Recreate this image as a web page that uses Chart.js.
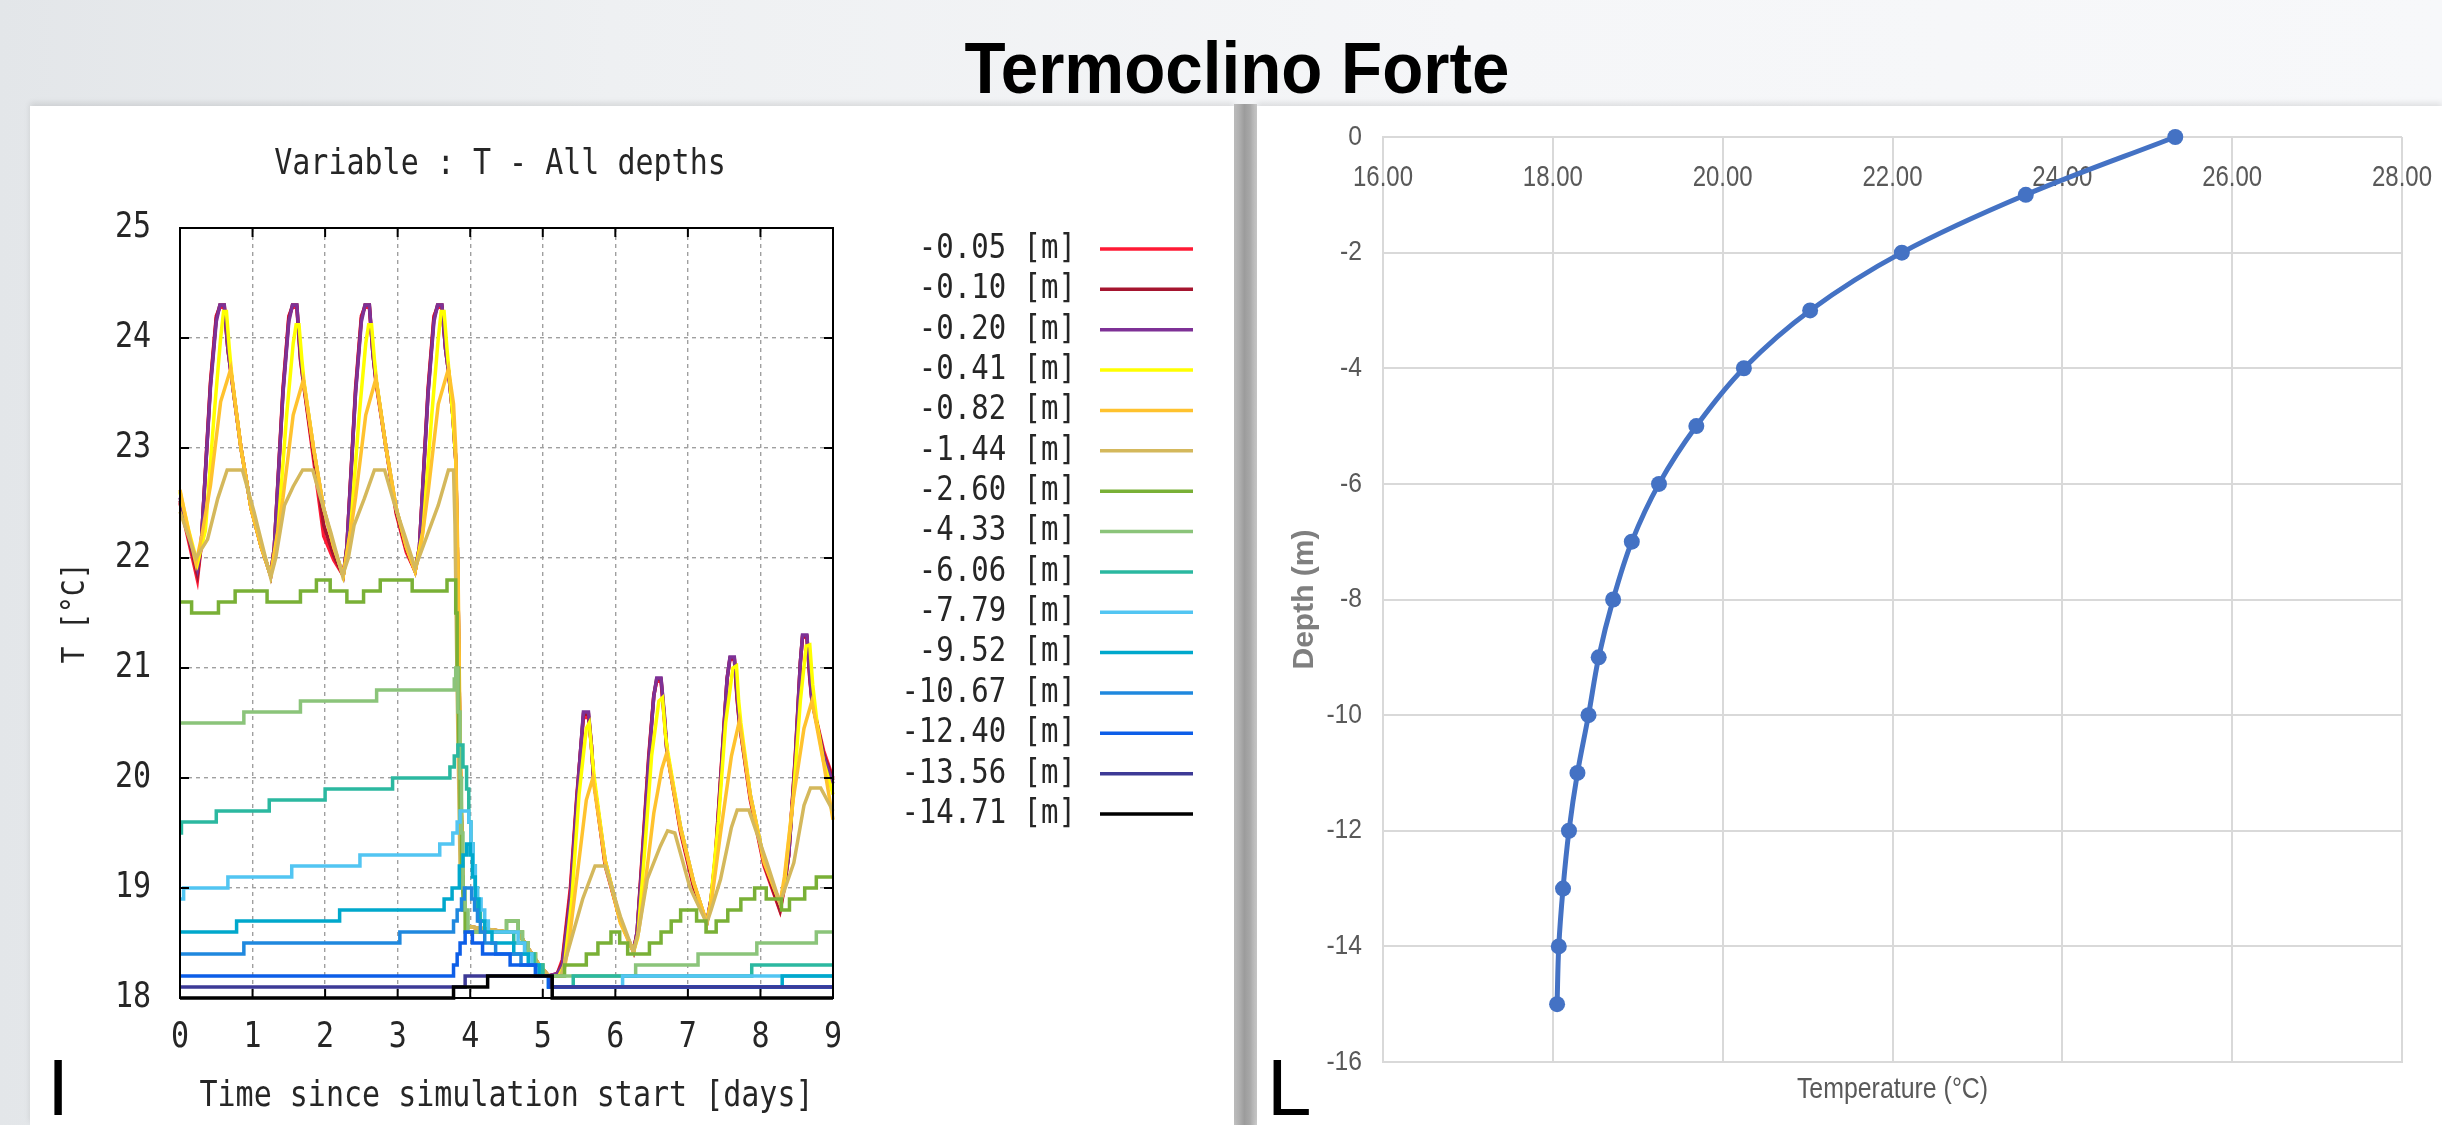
<!DOCTYPE html>
<html>
<head>
<meta charset="utf-8">
<script src="https://cdn.jsdelivr.net/npm/chart.js"></script>
<style>
  body {
    margin: 0;
    width: 2442px;
    height: 1125px;
    overflow: hidden;
    position: relative;
    background: linear-gradient(90deg, #e3e6e9 0%, #eef0f2 25%, #f5f6f8 60%, #f7f8fa 100%);
  }
  #pageTitle {
    position: absolute;
    left: 1237px;
    top: 32px;
    transform: translateX(-50%) scaleX(0.935);
    font: bold 72px "Liberation Sans", Arial, sans-serif;
    line-height: 72px;
    white-space: nowrap;
    color: #000;
  }
  .panel {
    position: absolute;
    top: 106px;
    height: 1019px;
    background: #fff;
    box-shadow: 0 -3px 6px rgba(0, 0, 0, 0.10);
  }
  #gap {
    position: absolute;
    left: 1234px;
    top: 104px;
    width: 23px;
    height: 1021px;
    background: linear-gradient(90deg, #c4c4c4, #9c9c9c 45%, #a8a8a8 70%, #cfcfcf);
  }
  .mark {
    position: absolute;
    top: 1048px;
    font: 80px "Liberation Sans", sans-serif;
    line-height: 80px;
    color: #000;
  }
</style>
</head>
<body>
<div id="pageTitle">Termoclino Forte</div>
<div id="gap"></div>
<div class="panel" style="left:30px;width:1204px"><canvas id="leftChart" width="1204" height="1019"></canvas></div>
<div class="panel" style="left:1257px;width:1185px"><canvas id="rightChart" width="1185" height="1019"></canvas></div>
<div class="mark" style="left:47px">I</div>
<div class="mark" style="left:1267px">L</div>

<script>
// ---- left plot : T at all depths vs time ----
const plotTitle = 'Variable : T - All depths';
const xTitle = 'Time since simulation start [days]';
const yTitle = 'T [°C]';
const depthLabels = ['-0.05 [m]', '-0.10 [m]', '-0.20 [m]', '-0.41 [m]', '-0.82 [m]', '-1.44 [m]',
  '-2.60 [m]', '-4.33 [m]', '-6.06 [m]', '-7.79 [m]', '-9.52 [m]', '-10.67 [m]', '-12.40 [m]',
  '-13.56 [m]', '-14.71 [m]'];
const lineColors = ['#ff1a35', '#a5152f', '#7e3196', '#ffff00', '#ffc22e', '#d4b85c', '#79b036',
  '#8bc47a', '#2bb8a0', '#52c5f2', '#00a8cc', '#1f88de', '#0d5ee8', '#3d3a96', '#000000'];

// surface layers share one time base (days)
const tSurf = [0, 0.12, 0.24, 0.29, 0.42, 0.5, 0.55, 0.61, 0.66, 0.7, 0.84, 0.98, 1.12, 1.25,
  1.3, 1.42, 1.5, 1.55, 1.61, 1.66, 1.7, 1.84, 1.98, 2.12, 2.25,
  2.3, 2.42, 2.5, 2.55, 2.61, 2.66, 2.7, 2.84, 2.98, 3.12, 3.24,
  3.3, 3.42, 3.5, 3.55, 3.61, 3.66, 3.7, 3.76, 3.8, 3.83, 3.86, 3.9, 3.96, 4.5, 4.66, 4.8, 4.95, 5.08, 5.2,
  5.27, 5.38, 5.47, 5.56, 5.63, 5.67, 5.7, 5.86, 6.07, 6.25,
  6.3, 6.37, 6.46, 6.53, 6.57, 6.63, 6.68, 6.71, 6.9, 7.08, 7.26,
  7.32, 7.38, 7.47, 7.54, 7.58, 7.64, 7.68, 7.71, 7.86, 8.05, 8.27,
  8.33, 8.39, 8.48, 8.55, 8.58, 8.64, 8.68, 8.71, 8.87, 9];
const vRed = [22.5, 22.15, 21.8, 22.1, 23.6, 24.2, 24.28, 24.28, 23.9, 23.7, 23.0, 22.45, 22.1, 21.84,
  22.1, 23.55, 24.2, 24.28, 24.28, 23.8, 23.6, 22.9, 22.2, 21.98, 21.84,
  22.1, 23.55, 24.2, 24.28, 24.28, 23.85, 23.6, 23.0, 22.4, 22.05, 21.88,
  22.1, 23.55, 24.2, 24.28, 24.28, 23.9, 23.7, 23.3, 22.9, 21.8, 20.2, 19.0, 18.65, 18.6, 18.6, 18.45, 18.3, 18.2, 18.22,
  18.35, 19.0, 19.85, 20.55, 20.55, 20.3, 20.0, 19.2, 18.7, 18.42,
  18.6, 19.3, 20.2, 20.75, 20.88, 20.88, 20.5, 20.25, 19.5, 19.0, 18.68,
  18.9, 19.3, 20.2, 20.9, 21.08, 21.08, 20.7, 20.5, 19.8, 19.2, 18.79,
  19.0, 19.3, 20.2, 21.05, 21.28, 21.28, 20.9, 20.7, 20.25, 20.0];
const vDarkRed = [22.52, 22.18, 21.85, 22.1, 23.58, 24.18, 24.3, 24.3, 23.9, 23.7, 23.0, 22.45, 22.1, 21.84,
  22.1, 23.52, 24.18, 24.3, 24.3, 23.82, 23.6, 22.95, 22.3, 22.02, 21.84,
  22.1, 23.52, 24.18, 24.3, 24.3, 23.85, 23.62, 23.0, 22.42, 22.08, 21.88,
  22.1, 23.52, 24.18, 24.3, 24.3, 23.9, 23.7, 23.3, 22.9, 21.8, 20.2, 19.0, 18.65, 18.6, 18.6, 18.45, 18.3, 18.2, 18.22,
  18.32, 18.95, 19.82, 20.58, 20.58, 20.3, 20.0, 19.22, 18.7, 18.42,
  18.6, 19.27, 20.17, 20.75, 20.9, 20.9, 20.52, 20.25, 19.52, 19.02, 18.68,
  18.9, 19.28, 20.18, 20.9, 21.09, 21.09, 20.72, 20.5, 19.82, 19.22, 18.8,
  19.02, 19.3, 20.18, 21.05, 21.29, 21.29, 20.92, 20.7, 20.22, 19.98];
const vPurple = [22.55, 22.2, 21.9, 22.1, 23.55, 24.15, 24.3, 24.3, 23.9, 23.7, 23.0, 22.45, 22.1, 21.84,
  22.1, 23.5, 24.15, 24.3, 24.3, 23.85, 23.62, 23.0, 22.45, 22.1, 21.84,
  22.1, 23.5, 24.15, 24.3, 24.3, 23.85, 23.63, 23.0, 22.45, 22.1, 21.88,
  22.1, 23.5, 24.15, 24.3, 24.3, 23.9, 23.7, 23.3, 22.9, 21.8, 20.2, 19.0, 18.65, 18.6, 18.6, 18.45, 18.3, 18.2, 18.22,
  18.3, 18.9, 19.8, 20.6, 20.6, 20.3, 20.0, 19.25, 18.7, 18.42,
  18.6, 19.23, 20.14, 20.74, 20.91, 20.91, 20.55, 20.25, 19.55, 19.05, 18.68,
  18.9, 19.25, 20.15, 20.9, 21.1, 21.1, 20.75, 20.52, 19.85, 19.25, 18.86,
  19.05, 19.3, 20.15, 21.05, 21.3, 21.3, 20.95, 20.7, 20.2, 19.95];

const tYellow = [0, 0.12, 0.24, 0.35, 0.47, 0.56, 0.6, 0.64, 0.68, 0.72, 0.84, 0.98, 1.12, 1.25,
  1.35, 1.47, 1.56, 1.6, 1.64, 1.68, 1.71, 1.84, 1.98, 2.12, 2.25,
  2.35, 2.47, 2.56, 2.6, 2.64, 2.68, 2.71, 2.84, 2.98, 3.12, 3.24,
  3.35, 3.47, 3.56, 3.6, 3.64, 3.68, 3.72, 3.77, 3.8, 3.83, 3.86, 3.9, 3.96, 4.5, 4.66, 4.8, 4.95, 5.08, 5.22,
  5.3, 5.4, 5.5, 5.6, 5.64, 5.68, 5.71, 5.86, 6.07, 6.25,
  6.31, 6.4, 6.5, 6.6, 6.65, 6.69, 6.72, 6.9, 7.08, 7.26,
  7.31, 7.42, 7.52, 7.62, 7.67, 7.7, 7.73, 7.86, 8.05, 8.27,
  8.33, 8.45, 8.55, 8.63, 8.68, 8.72, 8.78, 8.87, 9];
const vYellow = [22.6, 22.25, 21.95, 22.25, 23.3, 24.0, 24.24, 24.24, 23.9, 23.62, 23.0, 22.45, 22.1, 21.84,
  22.25, 23.3, 23.95, 24.12, 24.12, 23.8, 23.6, 23.0, 22.45, 22.1, 21.84,
  22.25, 23.3, 23.95, 24.12, 24.12, 23.8, 23.6, 23.0, 22.45, 22.1, 21.88,
  22.25, 23.3, 24.0, 24.24, 24.24, 23.9, 23.6, 23.2, 22.9, 21.8, 20.2, 19.0, 18.65, 18.6, 18.6, 18.45, 18.3, 18.2, 18.2,
  18.3, 18.9, 19.85, 20.45, 20.5, 20.2, 20.0, 19.25, 18.7, 18.42,
  18.55, 19.3, 20.2, 20.7, 20.73, 20.4, 20.25, 19.55, 19.05, 18.68,
  18.85, 19.6, 20.5, 21.0, 21.02, 20.7, 20.5, 19.85, 19.25, 18.86,
  19.05, 19.8, 20.7, 21.2, 21.21, 20.85, 20.5, 20.15, 19.85];

const tOrange = [0, 0.1, 0.22, 0.3, 0.42, 0.56, 0.7, 0.84, 0.98, 1.12, 1.25,
  1.32, 1.42, 1.56, 1.7, 1.84, 1.98, 2.12, 2.25,
  2.32, 2.42, 2.56, 2.7, 2.84, 2.98, 3.12, 3.24,
  3.32, 3.42, 3.56, 3.7, 3.77, 3.8, 3.83, 3.86, 3.9, 3.96, 4.5, 4.66, 4.8, 4.95, 5.08, 5.28,
  5.36, 5.51, 5.6, 5.69, 5.86, 6.07, 6.25,
  6.32, 6.39, 6.53, 6.64, 6.71, 6.9, 7.08, 7.26,
  7.33, 7.45, 7.6, 7.71, 7.86, 8.05, 8.27,
  8.33, 8.45, 8.6, 8.71, 8.87, 9];
const vOrange = [22.62, 22.3, 21.95, 22.2, 22.66, 23.42, 23.72, 23.0, 22.45, 22.1, 21.84,
  22.1, 22.55, 23.3, 23.62, 23.0, 22.45, 22.1, 21.84,
  22.1, 22.55, 23.3, 23.63, 23.0, 22.45, 22.1, 21.88,
  22.1, 22.6, 23.4, 23.72, 23.4, 23.0, 22.0, 20.4, 19.0, 18.65, 18.6, 18.6, 18.45, 18.3, 18.2, 18.2,
  18.5, 19.31, 19.8, 20.0, 19.23, 18.68, 18.42,
  18.6, 18.92, 19.68, 20.08, 20.23, 19.53, 19.05, 18.68,
  18.9, 19.5, 20.2, 20.52, 19.83, 19.23, 18.86,
  19.1, 19.8, 20.45, 20.7, 20.14, 19.62];

const tKhaki = [0, 0.22, 0.38, 0.52, 0.65, 0.86, 1.02, 1.16, 1.25,
  1.32, 1.44, 1.56, 1.69, 1.83, 1.94, 2.08, 2.24,
  2.32, 2.4, 2.54, 2.68, 2.82, 2.96, 3.1, 3.24,
  3.32, 3.42, 3.56, 3.7, 3.77, 3.79, 3.82, 3.86, 3.96, 4.5, 4.66, 4.8, 4.95, 5.08, 5.25,
  5.4, 5.55, 5.72, 5.86, 6.07, 6.25,
  6.32, 6.44, 6.62, 6.72, 6.82, 7.03, 7.26,
  7.32, 7.45, 7.6, 7.68, 7.84, 8.09, 8.27,
  8.33, 8.46, 8.6, 8.69, 8.83, 9];
const vKhaki = [22.42, 22.0, 22.17, 22.54, 22.8, 22.8, 22.42, 22.05, 21.82,
  22.0, 22.48, 22.65, 22.8, 22.8, 22.54, 22.23, 21.84,
  22.0, 22.3, 22.54, 22.8, 22.8, 22.48, 22.2, 21.91,
  22.05, 22.23, 22.48, 22.8, 22.8, 22.3, 20.8, 19.2, 18.65, 18.6, 18.6, 18.45, 18.3, 18.2, 18.2,
  18.55, 18.9, 19.2, 19.2, 18.74, 18.42,
  18.6, 19.08, 19.38, 19.52, 19.5, 19.0, 18.68,
  18.8, 19.08, 19.55, 19.71, 19.71, 19.23, 18.86,
  18.98, 19.23, 19.75, 19.91, 19.91, 19.7];

// deeper layers: each value holds from its time until the next one
const tGreen = [0, 0.16, 0.53, 0.76, 1.2, 1.66, 1.88, 2.07, 2.3, 2.53, 2.76, 3.2, 3.68, 3.8, 3.82, 3.84,
  3.86, 3.88, 3.9, 3.93, 4.5, 4.66, 4.72, 4.8, 4.9, 5.0, 5.3, 5.6, 5.76, 5.94, 6.06, 6.17, 6.47, 6.63,
  6.77, 6.9, 7.12, 7.25, 7.39, 7.55, 7.73, 7.92, 8.08, 8.29, 8.4, 8.61, 8.77, 9];
const vGreen = [21.6, 21.5, 21.6, 21.7, 21.6, 21.7, 21.8, 21.7, 21.6, 21.7, 21.8, 21.7, 21.8, 21.5, 21.0, 20.3,
  19.6, 19.1, 18.8, 18.6, 18.7, 18.6, 18.5, 18.4, 18.3, 18.2, 18.3, 18.4, 18.5, 18.6, 18.5, 18.4, 18.5, 18.6,
  18.7, 18.8, 18.7, 18.6, 18.7, 18.8, 18.9, 19.0, 18.9, 18.8, 18.9, 19.0, 19.1, 19.1];
const tLightGreen = [0, 0.88, 1.66, 2.71, 3.78, 3.8, 3.83, 3.86, 3.88, 3.9, 3.93, 3.97, 4.5, 4.66, 4.72,
  4.8, 4.9, 5.0, 6.28, 7.14, 7.95, 8.77, 9];
const vLightGreen = [20.5, 20.6, 20.7, 20.8, 20.9, 21.0, 20.6, 20.0, 19.5, 19.0, 18.8, 18.6, 18.7, 18.6, 18.5,
  18.4, 18.3, 18.2, 18.3, 18.4, 18.5, 18.6, 18.6];
const tTeal = [0, 0.02, 0.5, 1.23, 2.0, 2.93, 3.72, 3.78, 3.83, 3.9, 3.95, 3.98, 4.01, 4.04, 4.07, 4.1,
  4.14, 4.2, 4.6, 4.75, 4.88, 5.0, 5.1, 5.42, 7.88, 9];
const vTeal = [19.5, 19.6, 19.7, 19.8, 19.9, 20.0, 20.1, 20.2, 20.3, 20.1, 19.9, 19.6, 19.4, 19.2, 19.0, 18.8,
  18.7, 18.6, 18.5, 18.4, 18.3, 18.2, 18.1, 18.2, 18.3, 18.3];
const tLightBlue = [0, 0.05, 0.66, 1.54, 2.48, 3.58, 3.76, 3.82, 3.86, 3.98, 4.01, 4.04, 4.07, 4.1, 4.15,
  4.2, 4.25, 4.66, 4.75, 4.85, 4.95, 5.08, 6.1, 9];
const vLightBlue = [18.9, 19.0, 19.1, 19.2, 19.3, 19.4, 19.5, 19.6, 19.7, 19.6, 19.4, 19.2, 19.0, 18.9, 18.8,
  18.7, 18.6, 18.5, 18.4, 18.3, 18.2, 18.1, 18.2, 18.2];
const tCyan = [0, 0.78, 2.2, 3.64, 3.75, 3.85, 3.9, 3.95, 4.0, 4.03, 4.07, 4.12, 4.2, 4.3, 4.6, 4.8, 4.95,
  5.08, 8.3, 9];
const vCyan = [18.6, 18.7, 18.8, 18.9, 19.0, 19.2, 19.3, 19.4, 19.3, 19.1, 18.9, 18.7, 18.6, 18.5, 18.4, 18.3,
  18.2, 18.1, 18.2, 18.2];
const tBlue = [0, 0.88, 3.03, 3.77, 3.82, 3.88, 3.92, 4.02, 4.06, 4.1, 4.14, 4.2, 4.35, 4.7, 4.9, 5.08, 9];
const vBlue = [18.4, 18.5, 18.6, 18.7, 18.8, 18.9, 19.0, 18.9, 18.8, 18.7, 18.6, 18.5, 18.4, 18.3, 18.2, 18.1, 18.1];
const tDeepBlue = [0, 3.77, 3.82, 3.86, 3.93, 4.03, 4.17, 4.55, 4.9, 5.08, 9];
const vDeepBlue = [18.2, 18.3, 18.4, 18.5, 18.6, 18.5, 18.4, 18.3, 18.2, 18.1, 18.1];
const tIndigo = [0, 3.93, 5.12, 9];
const vIndigo = [18.1, 18.2, 18.1, 18.1];
const tBlack = [0, 3.77, 4.24, 5.13, 9];
const vBlack = [18.0, 18.1, 18.2, 18.0, 18.0];

const seriesTimes = [tSurf, tSurf, tSurf, tYellow, tOrange, tKhaki, tGreen, tLightGreen, tTeal,
  tLightBlue, tCyan, tBlue, tDeepBlue, tIndigo, tBlack];
const seriesValues = [vRed, vDarkRed, vPurple, vYellow, vOrange, vKhaki, vGreen, vLightGreen, vTeal,
  vLightBlue, vCyan, vBlue, vDeepBlue, vIndigo, vBlack];
const timeTicks = [0, 1, 2, 3, 4, 5, 6, 7, 8, 9];
const tempTicks = [18, 19, 20, 21, 22, 23, 24, 25];

// ---- right plot : temperature profile ----
const profileDepth = [0, -1, -2, -3, -4, -5, -6, -7, -8, -9, -10, -11, -12, -13, -14, -15];
const profileTemp = [25.33, 23.57, 22.11, 21.03, 20.25, 19.69, 19.25, 18.93, 18.71, 18.54, 18.42,
  18.29, 18.19, 18.12, 18.07, 18.05];
const profileTempTicks = [16, 18, 20, 22, 24, 26, 28];
const profileDepthTicks = [0, -2, -4, -6, -8, -10, -12, -14, -16];

const mono = '"DejaVu Sans Mono", "Liberation Mono", monospace';
const sans = '"Liberation Sans", Arial, sans-serif';

// the screenshot is a bit stretched, so text is drawn scaled
function stretchText(ctx, text, x, y, sx, sy, align) {
  ctx.save();
  ctx.translate(x, y);
  ctx.scale(sx, sy);
  ctx.textAlign = align;
  ctx.textBaseline = 'middle';
  ctx.fillText(text, 0, 0);
  ctx.restore();
}

// gnuplot look: frame, inward ticks on all sides, texts, legend on the right
const gnuplotDecor = {
  id: 'gnuplotDecor',
  afterDatasetsDraw(chart) {
    const {ctx, chartArea: a, scales: {x, y}} = chart;
    ctx.save();
    ctx.strokeStyle = '#000';
    ctx.lineWidth = 2;
    ctx.strokeRect(a.left, a.top, a.right - a.left, a.bottom - a.top);
    ctx.beginPath();
    timeTicks.forEach(v => {
      const px = x.getPixelForValue(v);
      ctx.moveTo(px, a.bottom); ctx.lineTo(px, a.bottom - 9);
      ctx.moveTo(px, a.top); ctx.lineTo(px, a.top + 9);
    });
    tempTicks.forEach(v => {
      const py = y.getPixelForValue(v);
      ctx.moveTo(a.left, py); ctx.lineTo(a.left + 9, py);
      ctx.moveTo(a.right, py); ctx.lineTo(a.right - 9, py);
    });
    ctx.stroke();

    ctx.fillStyle = '#262626';
    ctx.font = '30px ' + mono;
    timeTicks.forEach(v => stretchText(ctx, String(v), x.getPixelForValue(v), 932, 1, 1.18, 'center'));
    tempTicks.forEach(v => stretchText(ctx, String(v), 121, y.getPixelForValue(v), 1, 1.18, 'right'));
    stretchText(ctx, plotTitle, 470, 59, 1, 1.18, 'center');
    stretchText(ctx, xTitle, (a.left + a.right) / 2, 991, 1, 1.18, 'center');
    ctx.save();
    ctx.translate(46, (a.top + a.bottom) / 2);
    ctx.rotate(-Math.PI / 2);
    ctx.font = '28px ' + mono;
    stretchText(ctx, yTitle, 0, 0, 1, 1.15, 'center');
    ctx.restore();

    ctx.font = '29px ' + mono;
    chart.data.datasets.forEach((ds, i) => {
      const yy = 143 + i * 40.36;
      ctx.fillStyle = '#262626';
      stretchText(ctx, ds.label, 1046, yy, 1, 1.18, 'right');
      ctx.strokeStyle = ds.borderColor;
      ctx.lineWidth = 3.5;
      ctx.beginPath();
      ctx.moveTo(1070, yy);
      ctx.lineTo(1163, yy);
      ctx.stroke();
    });
    ctx.restore();
  }
};

new Chart(document.getElementById('leftChart'), {
  type: 'line',
  data: {
    datasets: depthLabels.map((label, i) => ({
      label: label,
      data: seriesTimes[i].map((t, k) => ({x: t, y: seriesValues[i][k]})),
      borderColor: lineColors[i],
      borderWidth: 3.5,
      pointRadius: 0,
      stepped: i >= 6,
      tension: 0,
      clip: 6,
      order: depthLabels.length - i
    }))
  },
  options: {
    responsive: false,
    animation: false,
    devicePixelRatio: 1,
    layout: {padding: {top: 122, right: 401, left: 0, bottom: 0}},
    plugins: {legend: {display: false}, tooltip: {enabled: false}},
    scales: {
      x: {
        type: 'linear', min: 0, max: 9,
        afterBuildTicks: s => { s.ticks = timeTicks.map(v => ({value: v})); },
        ticks: {display: false},
        grid: {color: '#a0a0a0', lineWidth: 1.4, drawTicks: false},
        border: {display: false, dash: [4, 4]},
        afterFit: s => { s.height = 127; }
      },
      y: {
        type: 'linear', min: 18, max: 25,
        afterBuildTicks: s => { s.ticks = tempTicks.map(v => ({value: v})); },
        ticks: {display: false},
        grid: {color: '#a0a0a0', lineWidth: 1.4, drawTicks: false},
        border: {display: false, dash: [4, 4]},
        afterFit: s => { s.width = 150; }
      }
    }
  },
  plugins: [gnuplotDecor]
});

// Excel look: narrow grey labels, temperatures just under the 0 m line
const excelLabels = {
  id: 'excelLabels',
  beforeDatasetsDraw(chart) {
    const {ctx, chartArea: a, scales: {x, y}} = chart;
    ctx.save();
    ctx.fillStyle = '#595959';
    ctx.font = '30px ' + sans;
    profileTempTicks.forEach(v => stretchText(ctx, v.toFixed(2), x.getPixelForValue(v), 72, 0.8, 1, 'center'));
    ctx.font = '28px ' + sans;
    profileDepthTicks.forEach(v => stretchText(ctx, String(v), 105, y.getPixelForValue(v), 0.88, 1, 'right'));
    ctx.font = '30px ' + sans;
    stretchText(ctx, 'Temperature (°C)', (a.left + a.right) / 2, 984, 0.83, 1, 'center');
    ctx.restore();
  }
};

new Chart(document.getElementById('rightChart'), {
  type: 'scatter',
  data: {
    datasets: [{
      label: 'Profile',
      data: profileTemp.map((t, i) => ({x: t, y: profileDepth[i]})),
      showLine: true,
      tension: 0.35,
      borderColor: '#4472c4',
      backgroundColor: '#4472c4',
      borderWidth: 5,
      pointRadius: 8,
      pointBorderWidth: 0,
      clip: 12
    }]
  },
  options: {
    responsive: false,
    animation: false,
    devicePixelRatio: 1,
    layout: {padding: {top: 31, right: 40, left: 0, bottom: 0}},
    plugins: {legend: {display: false}, tooltip: {enabled: false}},
    scales: {
      x: {
        type: 'linear', min: 16, max: 28,
        afterBuildTicks: s => { s.ticks = profileTempTicks.map(v => ({value: v})); },
        ticks: {display: false},
        grid: {color: '#d9d9d9', lineWidth: 2, drawTicks: false},
        border: {color: '#d9d9d9', width: 2},
        afterFit: s => { s.height = 63; }
      },
      y: {
        type: 'linear', min: -16, max: 0,
        afterBuildTicks: s => { s.ticks = profileDepthTicks.map(v => ({value: v})); },
        ticks: {display: false},
        grid: {color: '#d9d9d9', lineWidth: 2, drawTicks: false},
        border: {color: '#d9d9d9', width: 2},
        title: {display: true, text: 'Depth (m)', color: '#7f7f7f',
          font: {family: sans, size: 30, weight: 'bold'}, padding: {top: 30, bottom: 0}},
        afterFit: s => { s.width = 126; }
      }
    }
  },
  plugins: [excelLabels]
});
</script>
</body>
</html>
